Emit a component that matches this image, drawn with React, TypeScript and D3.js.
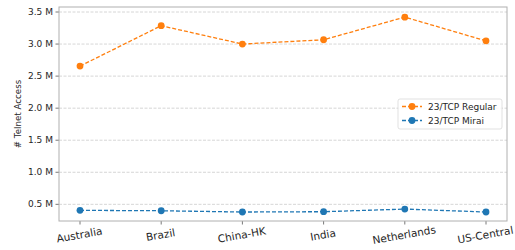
import React from "react";
import * as d3 from "d3";

const categories = ["Australia", "Brazil", "China-HK", "India", "Netherlands", "US-Central"];
const regular = [2.656, 3.286, 3.0, 3.067, 3.42, 3.05];
const mirai = [0.406, 0.40, 0.38, 0.385, 0.426, 0.38];
const yTicks = [0.5, 1.0, 1.5, 2.0, 2.5, 3.0, 3.5];
const seriesNames = ["23/TCP Regular", "23/TCP Mirai"];

const W = 515, H = 250;
const left = 59, right = 507, top = 7, bottom = 221;
const font = "DejaVu Sans, sans-serif";

export default function App() {
  const x = d3.scalePoint<string>().domain(categories).range([80, 486]);
  const y = d3.scaleLinear().domain([0.24, 3.578]).range([bottom, top]);
  const line = d3.line<number>().x((_, i) => x(categories[i])!).y((d) => y(d));
  const series = [
    { name: seriesNames[0], data: regular, color: "#ff7f0e" },
    { name: seriesNames[1], data: mirai, color: "#1f77b4" },
  ];
  return (
    <svg width={W} height={H} style={{ position: "absolute", left: 0, top: 0 }} fontFamily={font}>
      <rect width={W} height={H} fill="white" />
      {yTicks.map((t) => (
        <g key={t}>
          <line x1={left} x2={right} y1={y(t)} y2={y(t)} stroke="#cccccc" strokeWidth={0.8} strokeDasharray="3,1.5" />
          <line x1={left - 3.5} x2={left} y1={y(t)} y2={y(t)} stroke="#555" strokeWidth={0.8} />
          <text x={left - 6} y={y(t)} dy="0.35em" textAnchor="end" fontSize={9} fill="#262626">
            {t.toFixed(1)} M
          </text>
        </g>
      ))}
      {categories.map((c) => (
        <g key={c}>
          <line x1={x(c)} x2={x(c)} y1={bottom} y2={bottom + 3.5} stroke="#555" strokeWidth={0.8} />
          <text
            transform={`translate(${x(c)},${bottom + 17.5}) rotate(-10)`}
            textAnchor="middle"
            fontSize={10.5}
            fill="#262626"
          >
            {c}
          </text>
        </g>
      ))}
      {series.map((s) => (
        <g key={s.name}>
          <path d={line(s.data)!} fill="none" stroke={s.color} strokeWidth={1.3} strokeDasharray="4,2" />
          {s.data.map((v, i) => (
            <circle key={i} cx={x(categories[i])} cy={y(v)} r={3.4} fill={s.color} />
          ))}
        </g>
      ))}
      <rect x={left} y={top} width={right - left} height={bottom - top} fill="none" stroke="#b0b0b0" strokeWidth={1} />
      <text
        transform={`translate(21,${(top + bottom) / 2}) rotate(-90)`}
        textAnchor="middle"
        fontSize={8.7}
        fill="#262626"
      >
        # Telnet Access
      </text>
      <g>
        <rect x={398} y={99} width={104} height={30} rx={2} fill="white" fillOpacity={0.85} stroke="#d9d9d9" strokeWidth={0.8} />
        {series.map((s, i) => {
          const ly = 106.5 + i * 14;
          return (
            <g key={s.name}>
              <line x1={402} x2={422} y1={ly} y2={ly} stroke={s.color} strokeWidth={1.3} strokeDasharray="4,2" />
              <circle cx={412} cy={ly} r={3.4} fill={s.color} />
              <text x={428} y={ly} dy="0.35em" fontSize={9} fill="#262626">
                {s.name}
              </text>
            </g>
          );
        })}
      </g>
    </svg>
  );
}
